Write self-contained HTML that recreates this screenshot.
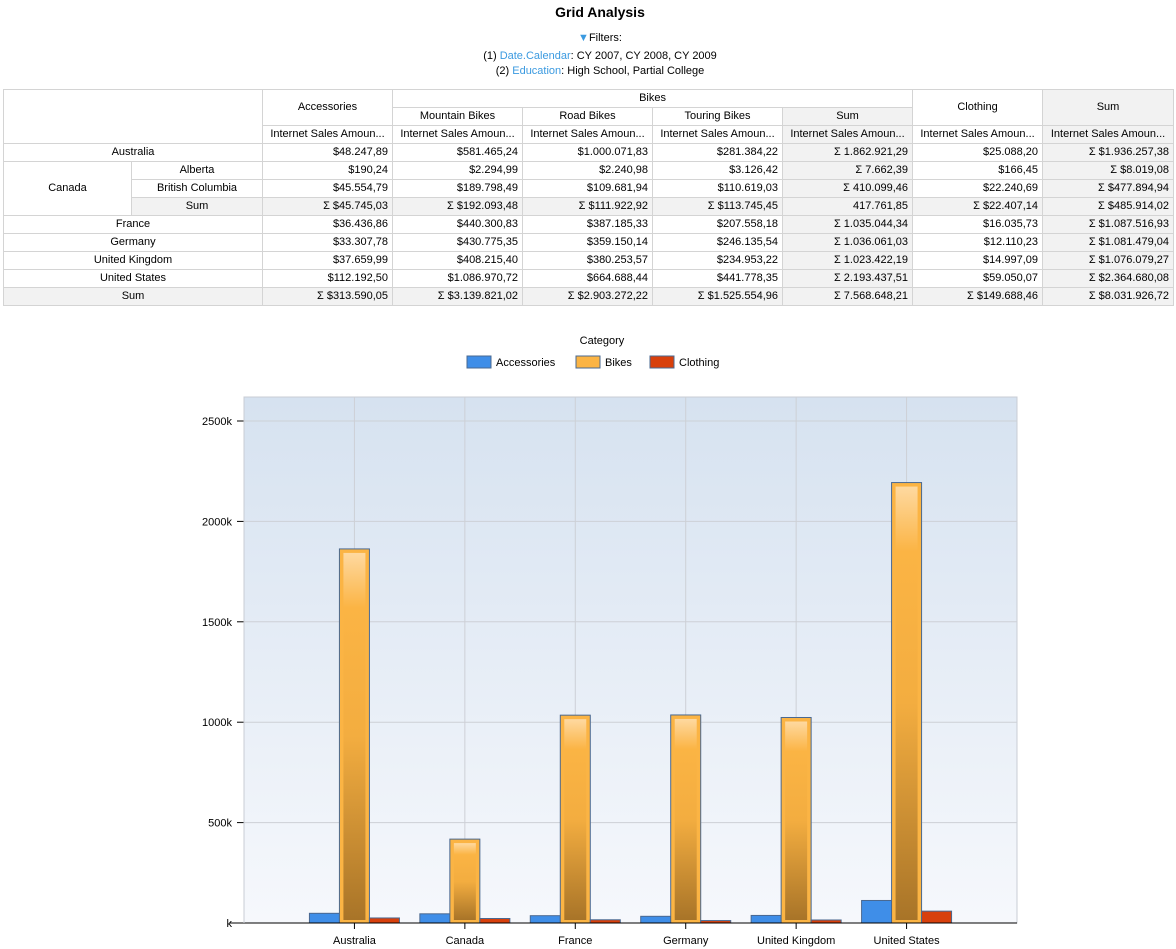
<!DOCTYPE html>
<html><head><meta charset="utf-8">
<style>
body{margin:0;width:1176px;height:949px;background:#fff;font-family:"Liberation Sans",sans-serif;font-size:11px;color:#000;position:relative;overflow:hidden}
.t{position:absolute;white-space:nowrap}
table{position:absolute;left:3px;top:89px;border-collapse:collapse;table-layout:fixed;width:1170px}
td{border:1px solid #d4d4d4;height:17px;padding:0 4px;font-size:11px;overflow:hidden;white-space:nowrap;line-height:17px;box-sizing:border-box}
.c{text-align:center}.r{text-align:right}.s{background:#f2f2f2}
a{color:#3b9ae0;text-decoration:none}
</style></head><body>
<div class="t" style="left:0;width:1200px;text-align:center;top:4px;font-weight:bold;font-size:14px">Grid Analysis</div>
<div class="t" style="left:0;width:1200px;text-align:center;top:32px"><span style="color:#3b9ae0">&#9660;</span>Filters:</div>
<div class="t" style="left:0;width:1200px;text-align:center;top:50px">(1) <a>Date.Calendar</a>: CY 2007, CY 2008, CY 2009</div>
<div class="t" style="left:0;width:1200px;text-align:center;top:65px">(2) <a>Education</a>: High School, Partial College</div>

<table>
<colgroup><col style="width:128px"><col style="width:131px"><col style="width:130px"><col style="width:130px"><col style="width:130px"><col style="width:130px"><col style="width:130px"><col style="width:130px"><col style="width:131px"></colgroup>
<tr><td colspan="2" rowspan="3"></td><td class="c" rowspan="2">Accessories</td><td class="c" colspan="4">Bikes</td><td class="c" rowspan="2">Clothing</td><td class="c s" rowspan="2">Sum</td></tr>
<tr><td class="c">Mountain Bikes</td><td class="c">Road Bikes</td><td class="c">Touring Bikes</td><td class="c s">Sum</td></tr>
<tr><td class="c">Internet Sales Amoun...</td><td class="c">Internet Sales Amoun...</td><td class="c">Internet Sales Amoun...</td><td class="c">Internet Sales Amoun...</td><td class="c s">Internet Sales Amoun...</td><td class="c">Internet Sales Amoun...</td><td class="c s">Internet Sales Amoun...</td></tr>
<tr><td class="c" colspan="2">Australia</td><td class="r">$48.247,89</td><td class="r">$581.465,24</td><td class="r">$1.000.071,83</td><td class="r">$281.384,22</td><td class="r s">Σ 1.862.921,29</td><td class="r">$25.088,20</td><td class="r s">Σ $1.936.257,38</td></tr>
<tr><td class="c" rowspan="3">Canada</td><td class="c">Alberta</td><td class="r">$190,24</td><td class="r">$2.294,99</td><td class="r">$2.240,98</td><td class="r">$3.126,42</td><td class="r s">Σ 7.662,39</td><td class="r">$166,45</td><td class="r s">Σ $8.019,08</td></tr>
<tr><td class="c">British Columbia</td><td class="r">$45.554,79</td><td class="r">$189.798,49</td><td class="r">$109.681,94</td><td class="r">$110.619,03</td><td class="r s">Σ 410.099,46</td><td class="r">$22.240,69</td><td class="r s">Σ $477.894,94</td></tr>
<tr class="s"><td class="c">Sum</td><td class="r">Σ $45.745,03</td><td class="r">Σ $192.093,48</td><td class="r">Σ $111.922,92</td><td class="r">Σ $113.745,45</td><td class="r">417.761,85</td><td class="r">Σ $22.407,14</td><td class="r">Σ $485.914,02</td></tr>
<tr><td class="c" colspan="2">France</td><td class="r">$36.436,86</td><td class="r">$440.300,83</td><td class="r">$387.185,33</td><td class="r">$207.558,18</td><td class="r s">Σ 1.035.044,34</td><td class="r">$16.035,73</td><td class="r s">Σ $1.087.516,93</td></tr>
<tr><td class="c" colspan="2">Germany</td><td class="r">$33.307,78</td><td class="r">$430.775,35</td><td class="r">$359.150,14</td><td class="r">$246.135,54</td><td class="r s">Σ 1.036.061,03</td><td class="r">$12.110,23</td><td class="r s">Σ $1.081.479,04</td></tr>
<tr><td class="c" colspan="2">United Kingdom</td><td class="r">$37.659,99</td><td class="r">$408.215,40</td><td class="r">$380.253,57</td><td class="r">$234.953,22</td><td class="r s">Σ 1.023.422,19</td><td class="r">$14.997,09</td><td class="r s">Σ $1.076.079,27</td></tr>
<tr><td class="c" colspan="2">United States</td><td class="r">$112.192,50</td><td class="r">$1.086.970,72</td><td class="r">$664.688,44</td><td class="r">$441.778,35</td><td class="r s">Σ 2.193.437,51</td><td class="r">$59.050,07</td><td class="r s">Σ $2.364.680,08</td></tr>
<tr class="s"><td class="c" colspan="2">Sum</td><td class="r">Σ $313.590,05</td><td class="r">Σ $3.139.821,02</td><td class="r">Σ $2.903.272,22</td><td class="r">Σ $1.525.554,96</td><td class="r">Σ 7.568.648,21</td><td class="r">Σ $149.688,46</td><td class="r">Σ $8.031.926,72</td></tr>
</table>

<svg id="chart" width="1176" height="949" style="position:absolute;left:0;top:0;pointer-events:none">
<defs>
<linearGradient id="bg" x1="0" y1="0" x2="0" y2="1"><stop offset="0" stop-color="#d6e2f0"/><stop offset="1" stop-color="#f6f8fc"/></linearGradient>
<linearGradient id="og" x1="0" y1="0" x2="0" y2="1"><stop offset="0" stop-color="#fed9a0"/><stop offset="0.15" stop-color="#fbb444"/><stop offset="0.5" stop-color="#f3ad40"/><stop offset="1" stop-color="#a87428"/></linearGradient>
</defs>
<g id="g"></g>
</svg>
<script>
const categories=["Australia","Canada","France","Germany","United Kingdom","United States"];
const accessories=[48247.89,45745.03,36436.86,33307.78,37659.99,112192.50];
const bikes=[1862921.29,417761.85,1035044.34,1036061.03,1023422.19,2193437.51];
const clothing=[25088.20,22407.14,16035.73,12110.23,14997.09,59050.07];
const yTicks=[0,500000,1000000,1500000,2000000,2500000];
const yTickLabels=["k","500k","1000k","1500k","2000k","2500k"];
const seriesNames=["Accessories","Bikes","Clothing"];
const NS="http://www.w3.org/2000/svg";
const g=document.getElementById('g');
const L=244,R=1017,T=397,B=923;
const band=(R-L)/(categories.length+1);
const y=v=>B-v*(B-421)/2500000;
const x=i=>L+band*(i+1);
function mk(t,a,p){const e=document.createElementNS(NS,t);for(const k in a)e.setAttribute(k,a[k]);(p||g).appendChild(e);return e;}
let e=mk('rect',{x:L,y:T,width:R-L,height:B-T,fill:'url(#bg)',stroke:'#c8ccd4'});

yTicks.forEach((v,i)=>{
 if(i>0){e=mk('line',{x1:L,x2:R,y1:y(v),y2:y(v),stroke:'#cdd0d6'});}
 mk('line',{x1:237,x2:244,y1:y(v),y2:y(v),stroke:'#000'});
 e=mk('text',{x:232,y:y(v)+4,'text-anchor':'end','font-size':11,'font-family':'Liberation Sans'});e.textContent=yTickLabels[i];
 
});
categories.forEach((c,i)=>{
 e=mk('line',{x1:x(i),x2:x(i),y1:T,y2:B,stroke:'#cdd0d6'});
 mk('line',{x1:x(i),x2:x(i),y1:B,y2:B+6,stroke:'#000'});
 e=mk('text',{x:x(i),y:B+21,'text-anchor':'middle','font-size':11,'font-family':'Liberation Sans'});e.textContent=c;
 
 const cx=x(i);
 e=mk('rect',{x:cx-45,y:y(accessories[i]),width:30,height:B-y(accessories[i]),fill:'#3f8ee8',stroke:'#4a6890'});
 
 e=mk('rect',{x:cx-15,y:y(bikes[i]),width:30,height:B-y(bikes[i]),fill:'#fbb444',stroke:'#4a6890'});
 
 if(B-y(bikes[i])>12){mk('rect',{x:cx-11,y:y(bikes[i])+4,width:22,height:B-y(bikes[i])-7,fill:'url(#og)'});}
 e=mk('rect',{x:cx+15,y:y(clothing[i]),width:30,height:B-y(clothing[i]),fill:'#d8400c',stroke:'#4a6890'});
 
});
mk('line',{x1:230,x2:R,y1:B,y2:B,stroke:'#000'});
mk('line',{x1:L,x2:L,y1:T,y2:B,stroke:'#c8ccd4'});
e=mk('text',{x:602,y:344,'text-anchor':'middle','font-size':11,'font-family':'Liberation Sans'});e.textContent='Category';

const lx=[467,576,650],cols=['#3f8ee8','#fbb444','#d8400c'];
seriesNames.forEach((n,i)=>{
 e=mk('rect',{x:lx[i],y:356,width:24,height:12,fill:cols[i],stroke:'#4a6890'});
 
 e=mk('text',{x:lx[i]+29,y:366,'font-size':11,'font-family':'Liberation Sans'});e.textContent=n;
 
});
</script>
</body></html>
